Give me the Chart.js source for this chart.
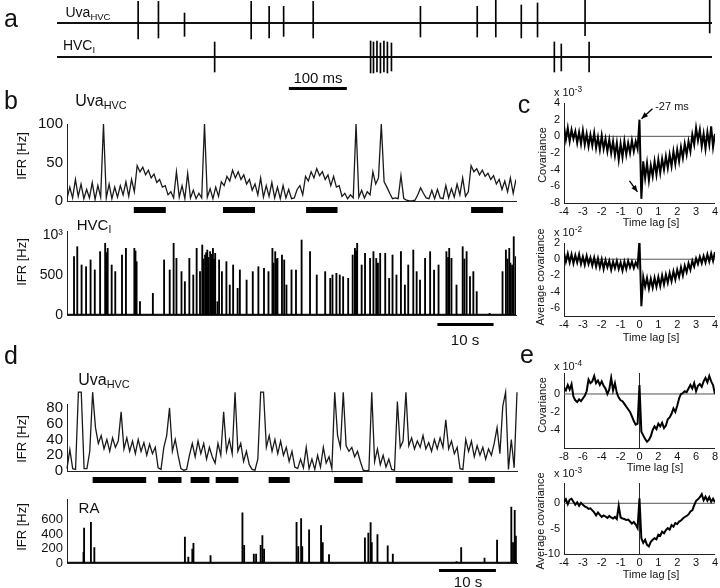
<!DOCTYPE html>
<html lang="en">
<head>
<meta charset="UTF-8">
<title>Uva and HVC activity</title>
<script src="https://cdn.jsdelivr.net/npm/chart.js"></script>
<style>
  body { margin: 0; background: #fff; font-family: "Liberation Sans", Arial, sans-serif; color: #111; }
  #fig { position: relative; width: 720px; height: 588px; overflow: hidden; }
  #fig canvas { position: absolute; }
  .lbl { position: absolute; transform: translate(-50%, -50%); white-space: nowrap; line-height: 1; }
  .rot { transform: translate(-50%, -50%) rotate(-90deg); }
  .big { font-size: 25px; }
  .sm { font-size: 11px; }
  sub { font-size: 0.68em; vertical-align: -0.3em; line-height: 0; }
  sup { font-size: 0.75em; vertical-align: 0.45em; line-height: 0; }
</style>
</head>
<body>
<div id="fig">
  <canvas id="aUva" width="720" height="44" style="left:0px;top:0px"></canvas>
  <canvas id="aHvc" width="720" height="60" style="left:0px;top:36px"></canvas>
  <canvas id="bUva" width="525" height="122" style="left:0px;top:96px"></canvas>
  <canvas id="bHvc" width="525" height="130" style="left:0px;top:215px"></canvas>
  <canvas id="cTop" width="200" height="145" style="left:520px;top:85px"></canvas>
  <canvas id="cBot" width="200" height="115" style="left:520px;top:230px"></canvas>
  <canvas id="dUva" width="525" height="110" style="left:0px;top:378px"></canvas>
  <canvas id="dRa" width="525" height="100" style="left:0px;top:488px"></canvas>
  <canvas id="eTop" width="200" height="110" style="left:520px;top:355px"></canvas>
  <canvas id="eBot" width="200" height="110" style="left:520px;top:466px"></canvas>

  <!-- panel letters -->
  <div class="lbl big" style="left:11px;top:18px">a</div>
  <div class="lbl big" style="left:11px;top:100px">b</div>
  <div class="lbl big" style="left:524px;top:104px">c</div>
  <div class="lbl big" style="left:11px;top:355px">d</div>
  <div class="lbl big" style="left:527px;top:354px">e</div>

  <!-- a -->
  <div class="lbl" style="left:88px;top:12px;font-size:14px">Uva<sub>HVC</sub></div>
  <div class="lbl" style="left:79px;top:45px;font-size:14px">HVC<sub>I</sub></div>
  <div class="lbl" style="left:318px;top:77px;font-size:15px">100 ms</div>

  <!-- b -->
  <div class="lbl" style="left:101px;top:101px;font-size:16px">Uva<sub>HVC</sub></div>
  <div class="lbl" style="left:94px;top:224px;font-size:15px">HVC<sub>I</sub></div>
  <div class="lbl rot" style="left:21px;top:156px;font-size:13px">IFR [Hz]</div>
  <div class="lbl rot" style="left:21px;top:262px;font-size:13px">IFR [Hz]</div>
  <div class="lbl" style="left:465px;top:339px;font-size:15px">10 s</div>

  <!-- c -->
  <div class="lbl sm" style="left:568px;top:92px">x 10<sup>-3</sup></div>
  <div class="lbl sm" style="left:672px;top:106px">-27 ms</div>
  <div class="lbl sm rot" style="left:542px;top:155px">Covariance</div>
  <div class="lbl sm" style="left:651px;top:222px">Time lag [s]</div>
  <div class="lbl sm" style="left:568px;top:232px">x 10<sup>-2</sup></div>
  <div class="lbl sm rot" style="left:540px;top:277px">Average covariance</div>
  <div class="lbl sm" style="left:651px;top:337px">Time lag [s]</div>

  <!-- d -->
  <div class="lbl" style="left:104px;top:380px;font-size:16px">Uva<sub>HVC</sub></div>
  <div class="lbl" style="left:89px;top:507px;font-size:15px">RA</div>
  <div class="lbl rot" style="left:21px;top:439px;font-size:13px">IFR [Hz]</div>
  <div class="lbl rot" style="left:21px;top:527px;font-size:13px">IFR [Hz]</div>
  <div class="lbl" style="left:468px;top:581px;font-size:15px">10 s</div>

  <!-- e -->
  <div class="lbl sm" style="left:568px;top:366px">x 10<sup>-4</sup></div>
  <div class="lbl sm rot" style="left:542px;top:405px">Covariance</div>
  <div class="lbl sm" style="left:655px;top:467px">Time lag [s]</div>
  <div class="lbl sm" style="left:568px;top:473px">x 10<sup>-3</sup></div>
  <div class="lbl sm rot" style="left:540px;top:521px">Average covariance</div>
  <div class="lbl sm" style="left:651px;top:574px">Time lag [s]</div>
</div>

<script>
// ---- panel a: raw traces (ms, spike amplitude up / down) ----
const aSpanMs = 1130;
const uvaSpikeMs   = [140, 175, 220, 335, 366, 391, 442, 627, 725, 757, 801, 829, 911, 1126];
const uvaSpikeUp   = [21.7, 21.7, 10, 21.7, 16.7, 16.7, 21.7, 16.7, 16.7, 23, 18, 20, 23, 23];
const uvaSpikeDown = [16, 15, 13.3, 16, 15, 13.3, 15, 14, 14, 14, 15, 14, 12.7, 10];
const hvcSpikeMs   = [272, 541, 546, 552, 558, 564, 570, 577, 858, 870, 918];
const hvcSpikeUp   = [15, 16, 15, 16, 14, 16, 15, 14, 15, 13, 15];
const hvcSpikeDown = [15, 16, 16, 15, 16, 15, 16, 14, 15, 14, 15];
const aScaleBarMs = [400, 500];

// ---- panel b: Uva IFR every 0.5 s, HVC_I spikes ----
const bSpanS = 80, bStepS = 0.5;
const bUvaIfr = [
  3, 18, 4, 28, 6, 22, 3, 15, 4, 24, 2, 20, 5, 100, 4, 22, 3, 18, 5, 20,
  8, 25, 6, 28, 12, 46, 38, 44, 34, 40, 30, 35, 24, 28, 18, 20, 8, 12, 4, 38,
  5, 20, 3, 36, 4, 14, 3, 10, 4, 100, 5, 16, 3, 18, 6, 25, 20, 32, 26, 40,
  30, 38, 28, 34, 22, 28, 14, 22, 8, 30, 5, 20, 6, 24, 4, 18, 3, 20, 4, 15,
  3, 4, 15, 20, 8, 32, 26, 38, 30, 42, 33, 38, 28, 34, 20, 32, 18, 20, 6, 10,
  3, 8, 4, 100, 5, 14, 4, 12, 8, 38, 22, 30, 100, 25, 18, 10, 3, 4, 3, 33,
  3, 1, 0, 0, 1, 8, 17, 10, 4, 3, 14, 3, 15, 4, 3, 20, 4, 16, 5, 22,
  8, 30, 6, 12, 46, 38, 42, 34, 40, 32, 36, 28, 33, 22, 28, 15, 26, 12, 30, 10, 28
];
const bBoutStart = [11.9, 27.8, 42.6, 72.0];
const bBoutEnd   = [17.6, 33.5, 48.2, 77.7];
const bHvcTimes = [
  1.25, 1.83, 2.6, 3.4, 4.2, 4.95, 5.9, 6.8, 6.95, 7.1, 7.25, 7.96, 8.6, 9.8, 10.5, 12.0, 12.1, 12.2, 12.4, 13.0,
  15.3, 17.3, 18.3, 19.0, 19.5, 20.4, 21.0, 21.8, 22.5, 23.1, 23.7, 24.1, 24.3, 24.6, 24.8, 25.0, 25.2, 25.5, 25.7, 26.0,
  26.2, 26.4, 26.8, 27.1, 27.6, 28.4, 29.0, 29.6, 30.4, 30.8, 32.0, 33.1, 34.1, 35.1, 35.9, 36.6, 36.8, 37.1, 37.3, 37.5,
  38.3, 38.7, 39.1, 40.0, 40.8, 41.8, 43.3, 44.5, 46.0, 46.9, 47.3, 48.0, 48.6, 49.2, 50.1, 50.9, 51.3, 51.5, 51.7, 52.5,
  53.1, 54.0, 54.6, 55.1, 55.4, 55.8, 56.7, 57.4, 58.0, 58.7, 59.5, 60.2, 60.8, 61.7, 62.3, 62.9, 63.8, 64.7, 65.4, 66.2,
  67.6, 67.9, 68.1, 68.5, 69.4, 70.5, 70.8, 71.2, 71.8, 72.4, 73.0, 75.3, 77.6, 78.2, 78.5, 78.8, 79.0, 79.3, 79.6, 79.95
];
const bHvcRates = [
  729, 854, 625, 604, 688, 563, 792, 896, 780, 700, 833, 625, 542, 750, 833, 833, 750, 800, 667, 167,
  271, 688, 563, 896, 708, 542, 417, 708, 500, 833, 542, 875, 700, 750, 780, 812, 720, 792, 760, 833,
  700, 771, 167, 688, 542, 667, 375, 625, 333, 563, 437, 542, 604, 583, 542, 833, 650, 792, 700, 708,
  750, 688, 375, 563, 563, 937, 792, 500, 542, 458, 500, 521, 500, 479, 458, 750, 833, 800, 896, 625,
  771, 708, 792, 708, 650, 771, 771, 458, 750, 500, 792, 375, 625, 812, 542, 437, 708, 792, 563, 625,
  792, 720, 833, 708, 375, 854, 700, 792, 479, 542, 292, 20, 542, 812, 700, 833, 650, 625, 979, 729
];
const bScaleBarS = [66, 76];

// ---- panel c: covariance vs time lag, -4..4 s every 0.1 s ----
const cLagStart = -4, cLagStep = 0.1;
const cTopCov = [
  1.2, -0.4, 1.0, -0.6, 0.8, -0.3, 0.6, -0.8, 0.5, -0.9,
  0.7, -1.0, 0.3, -1.2, 0.2, -1.1, 0.4, -1.4, -0.1, -1.6,
  0.1, -1.5, -0.3, -1.8, -0.4, -2.0, -0.6, -2.3, -0.8, -2.8,
  -0.9, -2.5, -0.6, -2.2, -0.8, -2.0, -0.5, -1.8, -0.6, -1.5,
  2.0, -7.5, -3.0, -5.0, -3.2, -5.3, -3.5, -4.8, -3.0, -4.6,
  -2.8, -4.4, -2.7, -4.0, -2.4, -3.8, -2.2, -3.6, -1.8, -3.3,
  -1.6, -3.0, -1.3, -2.6, -0.9, -2.2, -0.6, -1.8, 0.2, -1.0,
  1.0, -0.5, 0.8, -1.2, 0.3, -1.5, 0.5, -1.0, 1.2, -1.3, 0.3
];
const cBotCov = [
  0.8, -0.3, 0.7, -0.4, 0.6, -0.5, 0.5, -0.4, 0.6, -0.6,
  0.3, -0.7, 0.4, -0.6, 0.2, -0.8, 0.2, -0.9, 0.1, -1.0,
  0.0, -1.2, -0.1, -1.0, -0.2, -1.3, -0.3, -1.1, -0.2, -1.2,
  -0.4, -1.4, -0.3, -1.2, -0.2, -1.0, -0.3, -1.1, -0.4, -0.9,
  2.4, -5.8, -2.2, -3.4, -2.3, -3.6, -2.4, -3.5, -2.3, -3.4,
  -2.2, -3.3, -2.0, -3.1, -1.9, -2.9, -1.7, -2.7, -1.5, -2.5,
  -1.3, -2.2, -1.0, -2.0, -0.8, -1.6, -0.5, -1.3, -0.2, -0.9,
  0.1, -0.6, 0.3, -0.5, 0.4, -0.4, 0.6, -0.3, 0.7, -0.2, 0.9
];

// ---- panel d: Uva IFR every 0.5 s, RA spikes ----
const dSpanS = 79, dStepS = 0.5;
const dUvaIfr = [
  3, 27, 3, 2, 100, 100, 3, 3, 25, 100, 55, 35, 45, 28, 40, 25, 42, 30, 38, 75,
  28, 42, 25, 38, 22, 40, 25, 36, 20, 34, 22, 30, 4, 2, 30, 45, 80, 25, 40, 20,
  3, 1, 2, 20, 35, 18, 38, 22, 35, 15, 30, 18, 10, 35, 20, 75, 25, 40, 22, 100,
  25, 35, 12, 25, 8, 2, 1, 15, 100, 100, 30, 45, 25, 40, 22, 38, 20, 30, 12, 25,
  5, 3, 15, 4, 30, 3, 15, 2, 20, 5, 30, 10, 18, 3, 100, 45, 30, 100, 32, 25,
  30, 18, 25, 12, 1, 0, 1, 100, 12, 28, 8, 20, 5, 15, 2, 1, 88, 30, 38, 100,
  32, 42, 28, 38, 30, 45, 28, 36, 25, 40, 28, 42, 30, 65, 28, 38, 22, 30, 3, 2,
  40, 25, 38, 18, 32, 20, 30, 15, 28, 20, 35, 55, 22, 82, 100, 2, 40, 4, 100
];
const dBoutStart = [4.5, 16.0, 21.7, 26.1, 35.4, 46.9, 57.7, 70.5];
const dBoutEnd   = [13.9, 20.1, 25.0, 30.1, 39.1, 51.9, 67.7, 75.1];
const dRaTimes = [
  2.9, 3.0, 4.2, 4.8, 20.7, 21.3, 22.0, 22.2, 25.2, 30.8, 31.1, 32.8, 33.2, 34.0, 34.3, 34.6,
  40.3, 40.6, 41.1, 41.3, 42.5, 44.6, 44.9, 46.0, 52.3, 52.9, 53.3, 53.5, 54.5, 56.3, 57.2,
  68.4, 69.2, 73.3, 75.5, 78.0, 78.3, 78.6, 78.8
];
const dRaRates = [
  147, 480, 560, 213, 356, 80, 190, 271, 102, 689, 244, 124, 124, 244, 378, 190,
  560, 227, 613, 227, 458, 516, 280, 116, 347, 413, 556, 280, 391, 236, 124,
  20, 213, 67, 316, 769, 280, 724, 369
];
const dScaleBarS = [65.3, 75.3];

// ---- panel e: covariance vs time lag ----
const eTopStart = -8, eTopStep = 0.2;
const eTopCov = [
  0.7, 0.4, 1.0, 0.5, 1.1, -0.3, -0.7, -0.9, -0.6, -0.8,
  -0.5, -0.2, 0.3, 1.6, 1.2, 1.4, 2.0, 1.2, 1.5, 1.0,
  1.4, 0.9, 0.6, 0.0, 0.5, 1.8, 0.4, 1.2, 0.1, -0.4,
  -0.7, -0.8, -1.1, -1.4, -1.7, -2.0, -2.5, -3.0, -3.4, -3.3,
  1.0, -4.2, -4.6, -5.0, -5.3, -5.1, -4.7, -4.0, -3.6, -3.9,
  -3.3, -3.6, -3.2, -3.8, -3.5, -2.8, -2.6, -2.2, -1.6, -2.0,
  -1.3, -0.5, 0.0, 0.1, 0.3, 0.2, 0.6, 1.0, 0.6, 1.2,
  0.3, 0.9, 1.1, 0.8, 1.4, 1.8, 1.3, 2.0, 1.4, 1.0, 0.0
];
const eBotStart = -4, eBotStep = 0.1;
const eBotCov = [
  0.2, 0.8, -0.2, 0.7, 0.9, 0.3, -0.3, 0.2, -0.5, 0.1,
  -0.3, -0.6, -0.8, -1.1, -1.0, -1.4, -1.8, -2.4, -1.8, -2.3,
  -2.7, -2.4, -2.6, -2.9, -2.5, -2.8, -3.0, -2.7, -3.1, -0.5,
  -2.8, -3.0, -3.1, -3.3, -3.2, -3.6, -4.0, -3.7, -4.2, -4.9,
  1.0, -6.9, -7.8, -7.2, -8.2, -8.5, -7.6, -7.2, -6.9, -7.1,
  -6.2, -6.4, -5.6, -5.9, -5.3, -4.9, -5.2, -4.3, -4.6, -3.9,
  -4.1, -3.6, -3.4, -3.0, -2.7, -2.5, -2.2, -1.6, -1.4, -0.4,
  0.5, 0.8, 1.2, 1.8, 0.6, 1.3, 0.5, 1.2, 0.3, 0.9, 0.2
];

// tick values
const bUvaTicks = [0, 50, 100];
const bHvcTicks = [0, 500, 1000];
const dUvaTicks = [0, 20, 40, 60, 80];
const dRaTicks = [0, 200, 400, 600];
const cTopTicks = [-8, -6, -4, -2, 0, 2, 4];
const cBotTicks = [-6, -4, -2, 0, 2];
const eTopTicks = [-4, -2, 0];
const eBotTicks = [-10, -5, 0];
const lag4Ticks = [-4, -3, -2, -1, 0, 1, 2, 3, 4];
const lag8Ticks = [-8, -6, -4, -2, 0, 2, 4, 6, 8];

Chart.defaults.font.family = '"Liberation Sans", Arial, sans-serif';
Chart.defaults.color = '#111';

const toXY = (vals, x0, step) => vals.map((v, i) => ({ x: x0 + i * step, y: v }));
const setTicks = vals => s => { s.ticks = vals.map(v => ({ value: v })); };
const noGrid = { display: false, drawTicks: false };

function yAxis(min, max, ticks, w, size, cb) {
  return {
    min, max, afterBuildTicks: setTicks(ticks), afterFit: s => { s.width = w; },
    grid: noGrid, border: { color: '#222' },
    ticks: { font: { size }, padding: 4, autoSkip: false, color: '#111', callback: cb || (v => v) }
  };
}
function xTime(max) {
  return {
    type: 'linear', min: 0, max, offset: false, afterFit: s => { s.height = 0; },
    grid: noGrid, border: { color: '#222' }, ticks: { display: false }
  };
}
function xLag(min, max, ticks) {
  return {
    type: 'linear', min, max, offset: false, afterBuildTicks: setTicks(ticks),
    afterFit: s => { s.height = 14; }, grid: noGrid, border: { color: '#222' },
    ticks: { font: { size: 11 }, padding: 2, autoSkip: false, maxRotation: 0, color: '#111' }
  };
}

// black bars under a plot (song bouts and scale bars), placed with the x scale
const barsBelow = (starts, ends, gap, thick) => ({
  id: 'barsBelow',
  afterDraw(chart) {
    const { ctx, chartArea, scales: { x } } = chart;
    ctx.save();
    ctx.fillStyle = '#000';
    starts.forEach((s, i) => {
      const x1 = x.getPixelForValue(s), x2 = x.getPixelForValue(ends[i]);
      ctx.fillRect(x1, chartArea.bottom + gap, x2 - x1, thick);
    });
    ctx.restore();
  }
});

function makeChart(id, type, datasets, scales, padding, plugins) {
  return new Chart(document.getElementById(id), {
    type,
    data: { datasets },
    options: {
      responsive: false, animation: false, layout: { padding }, scales,
      elements: { point: { radius: 0 }, line: { tension: 0 } },
      plugins: { legend: { display: false }, tooltip: { enabled: false } }
    },
    plugins: plugins || []
  });
}

const line = (data, width, color, extra) => Object.assign(
  { type: 'line', data, borderColor: color || '#000', borderWidth: width, pointRadius: 0, fill: false }, extra || {});

// ---- a ----
const aX = { type: 'linear', min: 0, max: aSpanMs, display: false, offset: false };
makeChart('aUva', 'bar', [
  { data: uvaSpikeMs.map((t, i) => ({ x: t, y: [-uvaSpikeDown[i], uvaSpikeUp[i]] })), backgroundColor: '#000', barThickness: 1 },
  line([{ x: 0, y: 0 }, { x: aSpanMs, y: 0 }], 2.2, '#111')
], { x: aX, y: { min: -21, max: 23, display: false } }, { left: 57, right: 8, top: 0, bottom: 0 });

makeChart('aHvc', 'bar', [
  { data: hvcSpikeMs.map((t, i) => ({ x: t, y: [-hvcSpikeDown[i], hvcSpikeUp[i]] })), backgroundColor: '#000', barThickness: 1 },
  line([{ x: 0, y: 0 }, { x: aSpanMs, y: 0 }], 2.2, '#111')
], { x: aX, y: { min: -21, max: 21, display: false } }, { left: 57, right: 8, top: 0, bottom: 18 },
  [barsBelow([aScaleBarMs[0]], [aScaleBarMs[1]], 9, 3)]);

// ---- b ----
makeChart('bUva', 'line', [
  line(toXY(bUvaIfr, 0, bStepS), 1.3, '#1a1a1a')
], { x: xTime(bSpanS), y: yAxis(0, 100, bUvaTicks, 67, 15) },
  { left: 0, right: 9, top: 28, bottom: 17 }, [barsBelow(bBoutStart, bBoutEnd, 6, 6)]);

makeChart('bHvc', 'bar', [
  { data: bHvcTimes.map((t, i) => ({ x: t, y: bHvcRates[i] })), backgroundColor: '#000', barThickness: 1.2 },
  line([{ x: 0, y: 0 }, { x: bSpanS, y: 0 }], 2.5, '#111')
], { x: xTime(bSpanS), y: yAxis(0, 1050, bHvcTicks, 67, 14, v => (v === 1000 ? '10³' : v)) },
  { left: 0, right: 9, top: 16, bottom: 30 }, [barsBelow([bScaleBarS[0]], [bScaleBarS[1]], 8, 3)]);

// ---- c ----
const arrowPlugin = {
  id: 'arrows',
  afterDatasetsDraw(chart) {
    const { ctx, scales: { x, y } } = chart;
    const px = x.getPixelForValue(0);
    const top = y.getPixelForValue(Math.max(...cTopCov));
    const bot = y.getPixelForValue(Math.min(...cTopCov));
    const arrow = (x1, y1, x2, y2) => {
      const a = Math.atan2(y2 - y1, x2 - x1);
      ctx.beginPath(); ctx.moveTo(x1, y1); ctx.lineTo(x2, y2); ctx.stroke();
      ctx.beginPath();
      ctx.moveTo(x2, y2);
      ctx.lineTo(x2 - 7 * Math.cos(a - 0.4), y2 - 7 * Math.sin(a - 0.4));
      ctx.lineTo(x2 - 7 * Math.cos(a + 0.4), y2 - 7 * Math.sin(a + 0.4));
      ctx.closePath(); ctx.fill();
    };
    ctx.save();
    ctx.strokeStyle = '#000'; ctx.fillStyle = '#000'; ctx.lineWidth = 1.3;
    arrow(px + 13, top - 11, px + 2, top - 1);
    arrow(px - 10, bot - 18, px - 2, bot - 7);
    ctx.restore();
  }
};

makeChart('cTop', 'line', [
  line(toXY(cTopCov, cLagStart, cLagStep), 2),
  line([{ x: -4, y: 0 }, { x: 4, y: 0 }], 1, '#555')
], { x: xLag(-4, 4, lag4Ticks), y: yAxis(-8, 4, cTopTicks, 44, 11) },
  { left: 0, right: 4, top: 18, bottom: 13 }, [arrowPlugin]);

makeChart('cBot', 'line', [
  line(toXY(cBotCov, cLagStart, cLagStep), 2),
  line([{ x: -4, y: 0 }, { x: 4, y: 0 }], 1, '#555')
], { x: xLag(-4, 4, lag4Ticks), y: yAxis(-7, 2, cBotTicks, 44, 11) },
  { left: 0, right: 4, top: 13, bottom: 15 });

// ---- d ----
makeChart('dUva', 'line', [
  line(toXY(dUvaIfr, 0, dStepS), 1.3, '#1a1a1a', { clip: false })
], { x: xTime(dSpanS), y: yAxis(0, 85, dUvaTicks, 67, 15) },
  { left: 0, right: 8, top: 26, bottom: 17 }, [barsBelow(dBoutStart, dBoutEnd, 6, 6)]);

makeChart('dRa', 'bar', [
  { data: dRaTimes.map((t, i) => ({ x: t, y: dRaRates[i] })), backgroundColor: '#000', barThickness: 1.2 },
  line([{ x: 0, y: 0 }, { x: dSpanS, y: 0 }], 2.5, '#111')
], { x: xTime(dSpanS), y: yAxis(0, 870, dRaTicks, 67, 13) },
  { left: 0, right: 8, top: 10, bottom: 25 }, [barsBelow([dScaleBarS[0]], [dScaleBarS[1]], 6, 3)]);

// ---- e ----
makeChart('eTop', 'line', [
  line(toXY(eTopCov, eTopStart, eTopStep), 2),
  line([{ x: -8, y: 0 }, { x: 8, y: 0 }], 1, '#555'),
  line([{ x: 0, y: -6 }, { x: 0, y: 2.33 }], 1, '#222')
], { x: xLag(-8, 8, lag8Ticks), y: yAxis(-6, 2.33, eTopTicks, 44, 11) },
  { left: 0, right: 3, top: 18, bottom: 3 });

makeChart('eBot', 'line', [
  line(toXY(eBotCov, eBotStart, eBotStep), 2),
  line([{ x: -4, y: 0 }, { x: 4, y: 0 }], 1, '#555'),
  line([{ x: 0, y: -10 }, { x: 0, y: 4 }], 1, '#222')
], { x: xLag(-4, 4, lag4Ticks), y: yAxis(-10, 4, eBotTicks, 44, 11) },
  { left: 0, right: 3, top: 17, bottom: 8 });
</script>
</body>
</html>
